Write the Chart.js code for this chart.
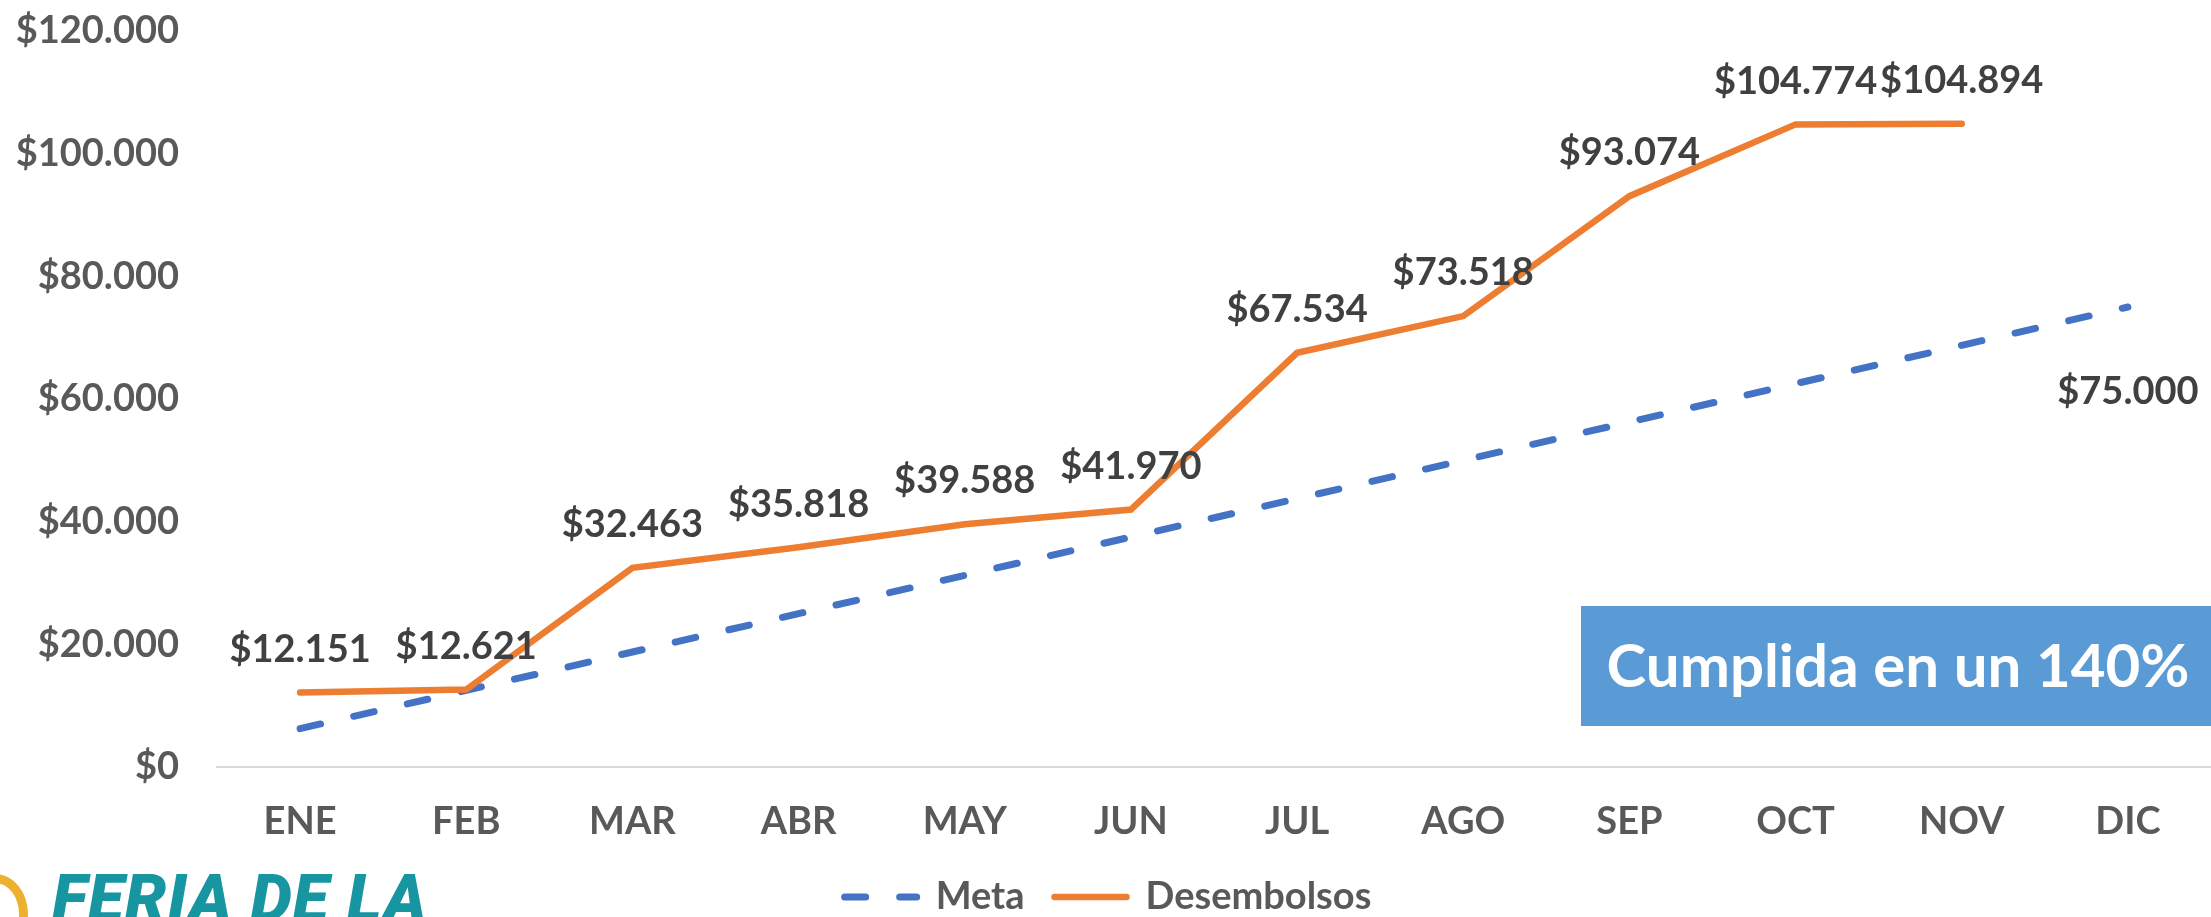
<!DOCTYPE html>
<html>
<head>
<meta charset="utf-8">
<script src="https://cdn.jsdelivr.net/npm/chart.js@4/dist/chart.umd.min.js"></script>
<style>
    html, body { margin: 0; padding: 0; background: #fff; overflow: hidden; }
    #wrap { position: relative; width: 2211px; height: 917px; }
    #logo {
        position: absolute; left: 0; top: 860px; width: 430px; height: 57px;
        overflow: hidden; background: #fff;
    }
    #logo .ring {
        position: absolute; left: -38px; top: 14px; width: 66px; height: 80px;
        border: 9px solid #EDB130; border-radius: 50%; box-sizing: border-box;
    }
    #logo .txt {
        position: absolute; left: 52px; top: 6px;
        font-family: Roboto, "Open Sans", sans-serif; font-weight: 900; font-style: italic;
        font-size: 66px; line-height: 1; color: #1796A1; letter-spacing: 1px;
    }
</style>
</head>
<body>
<div id="wrap">
    <canvas id="chart"></canvas>
    <div id="logo"><div class="ring"></div><div class="txt">FERIA DE LA</div></div>
</div>
<script>
// months
var months = ["ENE", "FEB", "MAR", "ABR", "MAY", "JUN", "JUL", "AGO", "SEP", "OCT", "NOV", "DIC"];

// monthly goal (Meta), cumulative
var metaValues = [6250, 12500, 18750, 25000, 31250, 37500, 43750, 50000, 56250, 62500, 68750, 75000];

// disbursements (Desembolsos), cumulative, DIC not reported yet
var desembolsosValues = [12151, 12621, 32463, 35818, 39588, 41970, 67534, 73518, 93074, 104774, 104894, null];

// y axis ticks
var yTicks = [0, 20000, 40000, 60000, 80000, 100000, 120000];

var boxText = "Cumplida en un 140%";

var fontFamily = "Lato, 'Open Sans', sans-serif";

function money(v) {
    return "$" + String(v).replace(/\B(?=(\d{3})+(?!\d))/g, ".");
};

// draws the value labels next to the points
var valueLabels = {
    id: "valueLabels",
    afterDatasetsDraw: function (chart) {
        var ctx = chart.ctx;
        ctx.save();
        ctx.font = "bold 38px " + fontFamily;
        ctx.fillStyle = "#404040";
        ctx.textAlign = "center";
        ctx.textBaseline = "middle";
        chart.data.datasets.forEach(function (ds, i) {
            var meta = chart.getDatasetMeta(i);
            meta.data.forEach(function (pt, j) {
                var v = ds.data[j];
                if (v === null) return;
                if (ds.labelOnly && ds.labelOnly.indexOf(j) === -1) return;
                ctx.fillText(money(v), pt.x, pt.y + ds.labelDy);
            });
        });
        ctx.restore();
    }
};

// the blue box with the note
var noteBox = {
    id: "noteBox",
    afterDraw: function (chart) {
        var ctx = chart.ctx;
        var w = chart.width;
        ctx.save();
        ctx.fillStyle = "#5B9BD5";
        ctx.fillRect(1581, 606, w - 1581, 120);
        ctx.font = "bold 60px " + fontFamily;
        ctx.fillStyle = "#ffffff";
        ctx.textAlign = "center";
        ctx.textBaseline = "middle";
        ctx.fillText(boxText, 1898, 668);
        ctx.restore();
    }
};

function legendLabels(chart) {
    var items = Chart.defaults.plugins.legend.labels.generateLabels(chart);
    items.forEach(function (it) {
        var ds = chart.data.datasets[it.datasetIndex];
        it.pointStyle = "line";
        it.strokeStyle = ds.borderColor;
        it.lineWidth = ds.borderWidth;
        it.lineDash = ds.borderDash || [];
        it.lineCap = "round";
    });
    return items;
};

function draw() {
    var ctx = document.getElementById("chart").getContext("2d");
    new Chart(ctx, {
        type: "line",
        data: {
            labels: months,
            datasets: [
                {
                    label: "Desembolsos",
                    data: desembolsosValues,
                    borderColor: "#ED7D31",
                    backgroundColor: "#ED7D31",
                    borderWidth: 6.5,
                    borderCapStyle: "round",
                    pointRadius: 0,
                    tension: 0,
                    fill: false,
                    labelDy: -43
                },
                {
                    label: "Meta",
                    data: metaValues,
                    borderColor: "#4472C4",
                    backgroundColor: "#4472C4",
                    borderWidth: 7,
                    borderDash: [21, 34],
                    borderCapStyle: "round",
                    pointRadius: 0,
                    tension: 0,
                    fill: false,
                    labelOnly: [11],
                    labelDy: 85
                }
            ]
        },
        options: {
            responsive: true,
            maintainAspectRatio: false,
            animation: false,
            events: [],
            layout: { padding: { top: 31, right: -5, bottom: -9, left: 0 } },
            plugins: {
                tooltip: { enabled: false },
                legend: {
                    position: "bottom",
                    labels: {
                        usePointStyle: true,
                        pointStyle: "line",
                        pointStyleWidth: 72,
                        padding: 30,
                        color: "#595959",
                        font: { family: fontFamily, size: 38, weight: "bold" },
                        generateLabels: legendLabels,
                        sort: function (a, b) { return b.datasetIndex - a.datasetIndex; }
                    }
                }
            },
            scales: {
                x: {
                    offset: true,
                    grid: { display: false, drawTicks: false, offset: true },
                    border: { display: true, color: "#D9D9D9", width: 2 },
                    ticks: {
                        color: "#595959",
                        padding: 32,
                        autoSkip: false,
                        maxRotation: 0,
                        font: { family: fontFamily, size: 38, weight: "bold" }
                    },
                    afterFit: function (scale) { scale.height = 81; }
                },
                y: {
                    min: 0,
                    max: 120000,
                    grid: { display: false, drawTicks: false },
                    border: { display: false },
                    afterBuildTicks: function (scale) {
                        scale.ticks = yTicks.map(function (v) { return { value: v }; });
                    },
                    ticks: {
                        color: "#595959",
                        padding: 38,
                        font: { family: fontFamily, size: 38, weight: "bold" },
                        callback: function (v) { return money(v); }
                    },
                    afterFit: function (scale) {
                        scale.width = 217;
                        scale.paddingTop = 0;
                        scale.paddingBottom = 0;
                    }
                }
            }
        },
        plugins: [valueLabels, noteBox]
    });
};

if (document.fonts && document.fonts.load) {
    Promise.all([
        document.fonts.load("bold 38px Lato"),
        document.fonts.load("italic 900 66px Roboto")
    ]).then(draw, draw);
} else {
    draw();
}
</script>
</body>
</html>
